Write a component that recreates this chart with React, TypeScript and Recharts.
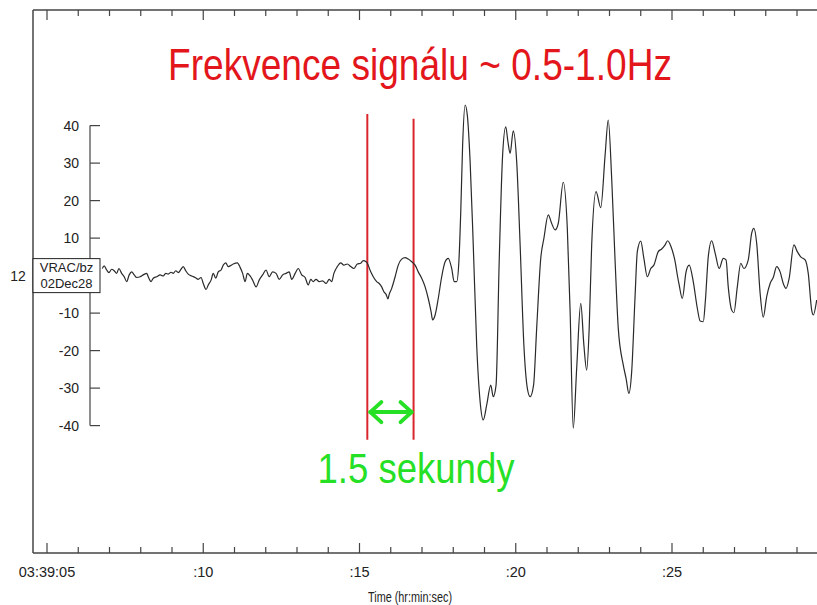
import React from 'react';
import { ComposedChart, Line, XAxis, YAxis, ReferenceLine } from 'recharts';

// seconds after 03:39:00
const times = [
  6.77, 6.83, 6.91, 6.98, 7.07, 7.15, 7.23, 7.3, 7.39, 7.47, 7.55, 7.63, 7.71, 7.79, 7.87, 7.98,
  8.08, 8.19, 8.24, 8.33, 8.4, 8.51, 8.62, 8.72, 8.8, 8.88, 8.97, 9.04, 9.12, 9.2, 9.29, 9.36,
  9.44, 9.52, 9.63, 9.74, 9.84, 9.93, 10.0, 10.09, 10.16, 10.25, 10.32, 10.4, 10.48, 10.57, 10.64,
  10.72, 10.8, 10.86, 10.96, 11.09, 11.18, 11.26, 11.34, 11.41, 11.5, 11.58, 11.69, 11.79, 11.9,
  12.01, 12.11, 12.22, 12.33, 12.43, 12.54, 12.65, 12.75, 12.83, 12.94, 13.04, 13.15, 13.26, 13.36,
  13.44, 13.52, 13.61, 13.71, 13.82, 13.93, 14.03, 14.11, 14.18, 14.29, 14.4, 14.5, 14.61, 14.72,
  14.82, 14.93, 15.04, 15.12, 15.21, 15.25, 15.36, 15.44, 15.55, 15.63, 15.71, 15.78, 15.85, 15.91,
  15.95, 16.03, 16.14, 16.24, 16.35, 16.46, 16.56, 16.67, 16.78, 16.88, 16.99, 17.1, 17.2, 17.29,
  17.34, 17.42, 17.52, 17.63, 17.74, 17.84, 17.95, 18.03, 18.11, 18.18, 18.24, 18.3, 18.38, 18.45,
  18.54, 18.64, 18.75, 18.86, 18.96, 19.07, 19.2, 19.28, 19.37, 19.47, 19.58, 19.68, 19.75, 19.82,
  19.92, 20.03, 20.14, 20.26, 20.37, 20.46, 20.57, 20.67, 20.8, 20.9, 21.04, 21.15, 21.26, 21.36,
  21.52, 21.65, 21.74, 21.84, 21.95, 22.08, 22.18, 22.27, 22.35, 22.43, 22.57, 22.72, 22.86, 22.96,
  23.07, 23.18, 23.28, 23.44, 23.53, 23.62, 23.71, 23.82, 23.89, 24.0, 24.1, 24.21, 24.32, 24.42,
  24.56, 24.67, 24.78, 24.86, 24.97, 25.1, 25.18, 25.23, 25.33, 25.45, 25.55, 25.68, 25.81, 25.9,
  26.0, 26.07, 26.16, 26.27, 26.38, 26.51, 26.64, 26.73, 26.8, 26.91, 26.98, 27.09, 27.2, 27.3,
  27.44, 27.55, 27.62, 27.71, 27.82, 27.92, 28.03, 28.14, 28.24, 28.35, 28.46, 28.56, 28.65, 28.75,
  28.9, 29.01, 29.12, 29.26, 29.36, 29.47, 29.52, 29.63,
];

const amps = [
  1.9, 2.6, 1.5, 0.8, 1.7, 1.3, 0.6, 1.9, 0.6, -0.3, -1.6, 0.2, 1.0, 0.2, -0.5, -0.3,
  0.2, 0.6, -0.3, -1.6, -0.7, -0.3, 0.2, -0.1, 0.6, 0.4, 0.9, 0.6, 1.3, 0.8, 1.7, 2.4,
  1.3, 0.4, -0.1, -0.5, -1.0, -0.5, -2.1, -3.7, -2.5, -1.2, 0.6, -0.7, 1.0, 1.5, 2.8,
  3.4, 2.4, 2.6, 3.1, 3.4, 2.2, 0.6, -1.6, 0.6, -0.1, -1.2, -3.0, -1.2, 0.2,
  1.5, -0.3, 1.0, 0.6, -1.0, 0.2, 0.6, 1.0, -1.0, 0.6, 1.9, 0.2, -0.5, -2.5,
  -1.0, -1.6, -1.0, -1.6, -1.4, -2.1, -1.0, -1.6, 0.6, 2.4, 3.4, 2.8, 3.1, 2.4,
  1.9, 3.1, 3.3, 4.0, 3.7, 3.3, 1.0, -0.3, -1.6, -2.1, -3.0, -4.3, -5.0, -6.2,
  -5.0, -3.4, -0.3, 2.8, 4.4, 4.8, 4.4, 3.7, 2.8, 1.0, -0.7, -3.0, -6.1, -9.6,
  -11.8, -10.5, -6.1, -0.3, 3.7, 4.6, 1.9, -1.6, -1.6, 3.7, 17.0, 34.8, 45.5, 42.8,
  30.4, 8.2, -18.5, -33.6, -38.5, -34.5, -29.2, -32.3, -29.2, 3.7, 32.2, 39.7, 35.7, 32.6,
  38.6, 30.4, 8.2, -18.5, -30.0, -32.3, -29.2, -14.0, 4.6, 9.9, 16.2, 13.9, 12.2, 13.9,
  24.9, 12.6, -9.6, -40.7, -24.7, -7.4, -18.5, -25.2, -14.0, 8.2, 22.4, 18.1, 32.2, 41.5,
  25.9, 3.7, -14.0, -23.8, -27.4, -31.4, -25.6, -5.2, 6.4, 9.2, 4.6, -0.3, 1.9, 2.8,
  6.4, 7.1, 8.2, 9.3, 7.7, 3.7, -0.3, -2.5, -6.1, 1.0, 2.8, -1.6, -8.7, -12.1,
  -12.3, -6.5, 5.0, 9.3, 6.0, 1.9, 4.6, 4.2, -3.0, -9.2, -9.9, -3.0, 3.3, 1.9,
  4.2, 11.3, 12.6, 8.6, -4.7, -11.1, -5.6, -2.1, -0.5, 2.4, 1.0, -2.1, -3.4, -0.7,
  8.2, 6.4, 5.0, 4.2, 0.6, -9.2, -10.5, -6.5,
];

const secondTicks = [5, 6, 7, 8, 9, 10, 11, 12, 13, 14, 15, 16, 17, 18, 19, 20, 21, 22, 23, 24, 25, 26, 27, 28, 29];
const majorTicks = [5, 10, 15, 20, 25];
const xTickLabels = ['03:39:05', ':10', ':15', ':20', ':25'];
const yTicks = [40, 30, 20, 10, 0, -10, -20, -30, -40];
const traceNumber = '12';
const traceLabel = ['VRAC/bz', '02Dec28'];

const xDomain = [4.552, 29.64];
const yDomain = [-73.97, 70.83];

const markerTimes = [15.25, 16.73];
const markerTops = [43.1, 41.8];
const markerBottom = -43.8;
const arrowLevel = -36.4;
const innerAxisTime = 6.376;
const innerAxisGap = 4.4;

const titleText = 'Frekvence signálu ~ 0.5-1.0Hz';
const noteText = '1.5 sekundy';
const xTitle = 'Time (hr:min:sec)';

const data = times.map((t, i) => ({ t, v: amps[i] }));

const AXIS = '#444';
const RED = '#e3161c';
const LINE_RED = '#d8262b';
const GREEN = '#26e026';
const FONT = '"Liberation Sans", Arial, Helvetica, sans-serif';
const NARROW = '"Liberation Sans Narrow", "Arial Narrow", "Liberation Sans", Arial, sans-serif';

const BottomTick = (props: any) => {
  const { x, y, payload } = props;
  const idx = majorTicks.indexOf(payload.value);
  const major = idx >= 0;
  return (
    <g>
      <line x1={x} x2={x} y1={y} y2={y - (major ? 10 : 6)} stroke={AXIS} strokeWidth={1.2} />
      {major && (
        <text x={x} y={y + 24} textAnchor="middle" fontSize={14.5} fill="#222" fontFamily={FONT}>
          {xTickLabels[idx]}
        </text>
      )}
    </g>
  );
};

const TopTick = (props: any) => {
  const { x, y, payload } = props;
  const major = majorTicks.indexOf(payload.value) >= 0;
  return <line x1={x} x2={x} y1={y} y2={y + (major ? 10 : 6)} stroke={AXIS} strokeWidth={1.2} />;
};

const YTick = (props: any) => {
  const { y, payload } = props;
  const v = payload.value;
  if (v === 0) {
    return (
      <g>
        <text x={18} y={y} dy={5} textAnchor="middle" fontSize={14} fill="#222" fontFamily={FONT}>
          {traceNumber}
        </text>
        <rect x={33} y={y - 17} width={67} height={34} fill="#fff" stroke="#222" strokeWidth={1} />
        <text x={66.5} y={y - 8} dy={4.5} textAnchor="middle" fontSize={13} fill="#222" fontFamily={FONT}>
          {traceLabel[0]}
        </text>
        <text x={66.5} y={y + 8} dy={4.5} textAnchor="middle" fontSize={13} fill="#222" fontFamily={FONT}>
          {traceLabel[1]}
        </text>
      </g>
    );
  }
  return (
    <g>
      <line x1={90} x2={100} y1={y} y2={y} stroke={AXIS} strokeWidth={1.2} />
      <text x={79} y={y} dy={5} textAnchor="end" fontSize={14} fill="#222" fontFamily={FONT}>
        {v}
      </text>
    </g>
  );
};

const ArrowShape = (props: any) => {
  const { x1, y1, x2 } = props;
  const l = Math.min(x1, x2) + 3;
  const r = Math.max(x1, x2) - 2;
  const y = y1;
  return (
    <g stroke={GREEN} strokeWidth={4} fill="none" strokeLinecap="round" strokeLinejoin="round">
      <line x1={l} y1={y} x2={r} y2={y} />
      <polyline points={`${l + 11},${y - 10} ${l},${y} ${l + 11},${y + 10}`} />
      <polyline points={`${r - 11},${y - 10} ${r},${y} ${r - 11},${y + 10}`} />
    </g>
  );
};

export default function App() {
  return (
    <div style={{ position: 'absolute', left: 0, top: 0, width: 817, height: 605, background: '#fff' }}>
      <ComposedChart
        width={817}
        height={605}
        data={data}
        margin={{ top: 9, right: 0, bottom: 0, left: 32 }}
      >
        <XAxis
          dataKey="t"
          type="number"
          domain={xDomain}
          allowDataOverflow
          ticks={secondTicks}
          interval={0}
          height={52}
          tickSize={0}
          tickMargin={0}
          tickLine={false}
          axisLine={{ stroke: AXIS, strokeWidth: 1.5 }}
          tick={<BottomTick />}
        />
        <XAxis
          xAxisId="top"
          orientation="top"
          dataKey="t"
          type="number"
          domain={xDomain}
          allowDataOverflow
          ticks={secondTicks}
          interval={0}
          height={1}
          tickSize={0}
          tickMargin={0}
          tickLine={false}
          axisLine={{ stroke: AXIS, strokeWidth: 1.5 }}
          tick={<TopTick />}
        />
        <YAxis
          type="number"
          domain={yDomain}
          allowDataOverflow
          ticks={yTicks}
          interval={0}
          width={1}
          tickSize={0}
          tickMargin={0}
          tickLine={false}
          axisLine={{ stroke: AXIS, strokeWidth: 1.5 }}
          tick={<YTick />}
        />
        <ReferenceLine
          segment={[{ x: innerAxisTime, y: 40 }, { x: innerAxisTime, y: innerAxisGap }]}
          stroke={AXIS}
          strokeWidth={1.2}
        />
        <ReferenceLine
          segment={[{ x: innerAxisTime, y: -innerAxisGap }, { x: innerAxisTime, y: -40 }]}
          stroke={AXIS}
          strokeWidth={1.2}
        />
        {markerTimes.map((mt, i) => (
          <ReferenceLine
            key={i}
            segment={[{ x: mt, y: markerBottom }, { x: mt, y: markerTops[i] }]}
            stroke={LINE_RED}
            strokeWidth={2}
          />
        ))}
        <ReferenceLine
          segment={[{ x: markerTimes[0], y: arrowLevel }, { x: markerTimes[1], y: arrowLevel }]}
          shape={ArrowShape}
        />
        <Line
          dataKey="v"
          type="monotone"
          stroke="#2a2a2a"
          strokeWidth={1.2}
          dot={false}
          activeDot={false}
          isAnimationActive={false}
        />
      </ComposedChart>
      <svg
        width={817}
        height={605}
        style={{ position: 'absolute', left: 0, top: 0, pointerEvents: 'none' }}
      >
        <text
          x={420}
          y={80}
          textAnchor="middle"
          fontSize={44}
          fill={RED}
          fontFamily={NARROW}
          textLength={504}
          lengthAdjust="spacingAndGlyphs"
        >
          {titleText}
        </text>
        <text
          x={416}
          y={483}
          textAnchor="middle"
          fontSize={43}
          fill={GREEN}
          fontFamily={NARROW}
          textLength={197}
          lengthAdjust="spacingAndGlyphs"
        >
          {noteText}
        </text>
        <text
          x={410}
          y={602}
          textAnchor="middle"
          fontSize={14.5}
          fill="#222"
          fontFamily={NARROW}
          textLength={84}
          lengthAdjust="spacingAndGlyphs"
        >
          {xTitle}
        </text>
      </svg>
    </div>
  );
}
